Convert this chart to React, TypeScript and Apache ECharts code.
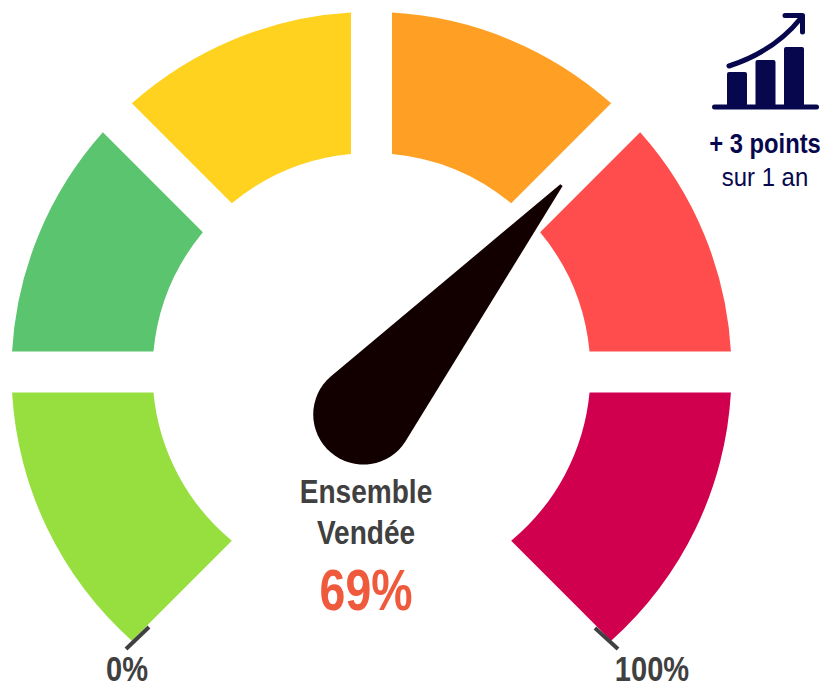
import React, { useEffect, useRef } from "react";
import * as echarts from "echarts";

const zoneNames = ["Zone 1", "Zone 2", "Zone 3", "Zone 4", "Zone 5", "Zone 6"];
const zoneStartAngles = [225, 180, 135, 90, 45, 0];
const zoneEndAngles = [180, 135, 90, 45, 0, -45];
const zoneColors = ["#97DF3F", "#5AC46F", "#FFD21F", "#FFA024", "#FF4D4D", "#D0004F"];
const needleValue = 69;
const centerLines = ["Ensemble", "Vendée"];
const scaleLabels = ["0%", "100%"];
const trendLines = ["+ 3 points", "sur 1 an"];
const trendBars = [
  [727, 72, 20, 35],
  [755.5, 60, 20, 47],
  [784, 47, 20, 60],
];

const NAVY = "#07074E";
const DARK = "#404040";
const FONT = "'Liberation Sans', Arial, sans-serif";
const NEEDLE = "path://M46.5 0 L49.5 0 L97.4 297.5 A50 50 0 1 1 -1.4 297.5 Z";
const CX = 371.5;
const CY = 372;
const R_OUT = 360;
const R_IN = 219;
const HALF_GAP = 20.5;

function edgePoint(deg: number, radius: number, offset: number, side: 1 | -1) {
  const a = (deg * Math.PI) / 180;
  const t = Math.sqrt(radius * radius - offset * offset);
  return [
    CX + t * Math.cos(a) + side * offset * Math.sin(a),
    CY - t * Math.sin(a) + side * offset * Math.cos(a),
  ];
}

function zonePath(start: number, end: number, first: boolean, last: boolean) {
  const d0 = first ? -HALF_GAP : HALF_GAP;
  const d1 = last ? -HALF_GAP : HALF_GAP;
  const a = edgePoint(start, R_IN, d0, 1);
  const b = edgePoint(start, R_OUT, d0, 1);
  const c = edgePoint(end, R_OUT, d1, -1);
  const d = edgePoint(end, R_IN, d1, -1);
  return `M${a[0]} ${a[1]} L${b[0]} ${b[1]} A${R_OUT} ${R_OUT} 0 0 1 ${c[0]} ${c[1]} L${d[0]} ${d[1]} A${R_IN} ${R_IN} 0 0 0 ${a[0]} ${a[1]} Z`;
}

function label(text: string, x: number, y: number, size: number, scaleX: number, fill: string, bold = true) {
  return {
    type: "text",
    x,
    y,
    z: 20,
    scaleX,
    silent: true,
    style: {
      text,
      fill,
      font: `${bold ? "bold " : ""}${size}px ${FONT}`,
      textAlign: "center",
      textVerticalAlign: "middle",
    },
  };
}

export default function App() {
  const ref = useRef<HTMLDivElement>(null);
  useEffect(() => {
    const chart = echarts.init(ref.current!, null, { renderer: "svg" });
    chart.setOption({
      animation: false,
      backgroundColor: "#ffffff",
      series: [
        {
          type: "custom",
          coordinateSystem: "none",
          silent: true,
          z: 1,
          data: zoneNames.map((name, i) => ({ name, value: [zoneStartAngles[i], zoneEndAngles[i]] })),
          renderItem: (params: any, api: any) => {
            const i = params.dataIndex;
            return {
              type: "path",
              shape: { pathData: zonePath(api.value(0), api.value(1), i === 0, i === zoneNames.length - 1) },
              style: { fill: zoneColors[i] },
            };
          },
        },
        {
          type: "gauge",
          silent: true,
          z: 5,
          center: [362, 416],
          radius: 350,
          min: 0,
          max: 100,
          startAngle: 225,
          endAngle: -29.8,
          axisLine: { show: false },
          axisTick: { show: false },
          splitLine: { show: false },
          axisLabel: { show: false },
          progress: { show: false },
          anchor: { show: false },
          title: { show: false },
          detail: { show: false },
          pointer: {
            show: true,
            icon: NEEDLE,
            width: 100,
            length: 353,
            offsetCenter: [0, 48],
            keepAspect: false,
            itemStyle: { color: "#120000" },
          },
          data: [{ value: needleValue }],
        },
      ],
      graphic: {
        elements: [
          { type: "line", z: 20, silent: true, shape: { x1: 126, y1: 649, x2: 149, y2: 627 }, style: { stroke: DARK, lineWidth: 4 } },
          { type: "line", z: 20, silent: true, shape: { x1: 595, y1: 628, x2: 618, y2: 649 }, style: { stroke: DARK, lineWidth: 4 } },
          label(scaleLabels[0], 127, 669, 35, 0.83, DARK),
          label(scaleLabels[1], 652, 669, 35, 0.83, DARK),
          label(centerLines[0], 366, 491, 33, 0.85, DARK),
          label(centerLines[1], 366, 532, 33, 0.85, DARK),
          label(`${needleValue}%`, 366, 590, 58, 0.8, "#F05A3C"),
          label(trendLines[0], 765, 143, 27, 0.88, NAVY),
          label(trendLines[1], 765, 177, 26, 0.92, NAVY, false),
          { type: "line", z: 20, silent: true, shape: { x1: 714.5, y1: 107, x2: 816.5, y2: 107 }, style: { stroke: NAVY, lineWidth: 5, lineCap: "round" } },
          ...trendBars.map(([x, y, width, height]) => ({
            type: "rect",
            z: 20,
            silent: true,
            shape: { x, y, width, height, r: [2, 2, 0, 0] },
            style: { fill: NAVY },
          })),
          {
            type: "bezierCurve",
            z: 20,
            silent: true,
            shape: { x1: 729, y1: 66, cpx1: 760, cpy1: 56, cpx2: 785, cpy2: 38, x2: 801, y2: 18 },
            style: { stroke: NAVY, lineWidth: 5, lineCap: "round", fill: "none" },
          },
          {
            type: "polyline",
            z: 20,
            silent: true,
            shape: { points: [[785, 15.5], [802.5, 15.5], [802.5, 32]] },
            style: { stroke: NAVY, lineWidth: 5, lineCap: "round", lineJoin: "round", fill: "none" },
          },
        ],
      },
    });
    return () => chart.dispose();
  }, []);
  return <div ref={ref} style={{ position: "fixed", left: 0, top: 0, width: 825, height: 684 }} />;
}
